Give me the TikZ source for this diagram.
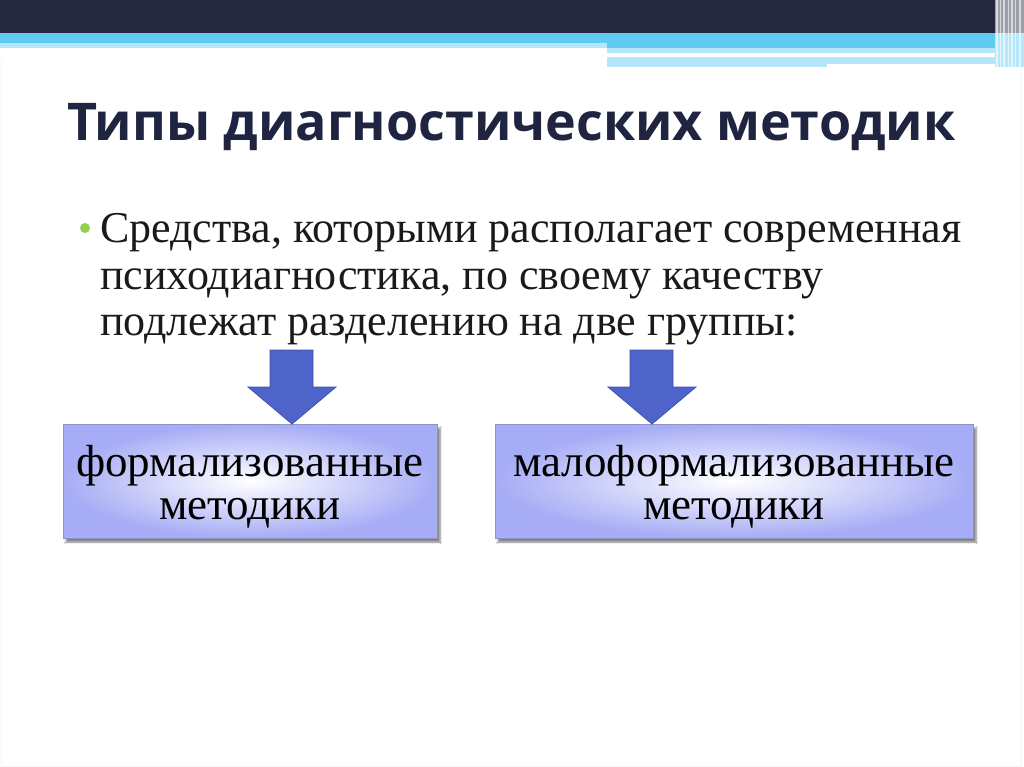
\documentclass[tikz,border=0pt]{standalone}
\usepackage{fontspec}
\setmainfont{Liberation Serif}
\newfontfamily\titlefont{Open Sans}
\usetikzlibrary{shadows.blur}
\definecolor{navy}{HTML}{23283F}
\definecolor{skyb}{HTML}{5FCBF3}
\definecolor{lightb}{HTML}{B5E6F9}
\definecolor{titlecol}{HTML}{1F2541}
\definecolor{bodycol}{HTML}{1A1A1A}
\definecolor{bulletgreen}{HTML}{92D050}
\definecolor{arrowfill}{HTML}{4F64C8}
\definecolor{arrowdraw}{HTML}{3F51A8}
\definecolor{boxedge}{HTML}{A6ACF5}
\definecolor{boxline}{HTML}{8E95C6}
\tikzset{
  titletext/.style={anchor=base west, inner sep=0, text=titlecol, font=\titlefont\bfseries\fontsize{52}{56}\selectfont},
  bodytext/.style={anchor=base west, inner sep=0, text=bodycol, font=\fontsize{44}{46}\selectfont},
  methodbox/.style={draw=boxline, line width=1pt, inner color=white, outer color=boxedge,
    minimum height=114, inner sep=0,
    blur shadow={shadow xshift=3pt, shadow yshift=-4pt, shadow blur steps=6, shadow opacity=50}},
  boxtext/.style={anchor=base, inner sep=0, text=black, font=\fontsize{45}{44}\selectfont},
  blockarrow/.style={fill=arrowfill, draw=arrowdraw, line width=0.8pt, line join=miter},
}
\begin{document}
\begin{tikzpicture}[x=1pt,y=-1pt]
\useasboundingbox (0,0) rectangle (1024,767);
\fill[white] (0,0) rectangle (1024,767);
\draw[gray!8, line width=1pt] (1,60) -- (1,766) -- (1021,766) -- (1021,60);
% top bands
\fill[navy] (0,0) rectangle (1024,33);
\fill[skyb] (0,33) rectangle (1024,43);
\fill[lightb] (0,43) rectangle (607,48);
\fill[skyb] (607,43) rectangle (1000,48);
\fill[lightb] (607,48) rectangle (1006,53);
\fill[lightb] (607,57) rectangle (827,67);
\fill[lightb] (827,57) rectangle (1006,64);
% right vertical stripes
\fill[white!55!navy] (995,0) rectangle (1024,33);
\fill[white!55!skyb] (995,33) rectangle (1024,67);
\foreach \xx/\ww in {996/1.5,1000/1,1003/2,1008/1,1011/1.5,1015/1,1019/2} {
  \fill[white, opacity=0.6] (\xx,0) rectangle ++(\ww,67);
}
% title
\node[titletext] (title) at (67,141) {Типы диагностических методик};
% bullet and body
\fill[bulletgreen] (85,228) circle (5);
\node[bodytext] (line1) at (100,243) {Средства, которыми располагает современная};
\node[bodytext] (line2) at (100,289) {психодиагностика, по своему качеству};
\node[bodytext] (line3) at (100,335) {подлежат разделению на две группы:};
% boxes
\node[methodbox, minimum width=374] (formal) at (250,481) {};
\node[methodbox, minimum width=478] (informal) at (734,481) {};
\node[boxtext] (formal1) at (250,476) {формализованные};
\node[boxtext] (formal2) at (250,519) {методики};
\node[boxtext] (informal1) at (734,476) {малоформализованные};
\node[boxtext] (informal2) at (734,519) {методики};
% block arrows
\coordinate (tipA) at (292,424);
\coordinate (tipB) at (652,424);
\foreach \t in {tipA,tipB} {
  \draw[blockarrow] (\t) ++(-22,-74) -- ++(43,0) -- ++(0,37) -- ++(23,0) -- (\t) -- ++(-44,-37) -- ++(22,0) -- cycle;
}
\end{tikzpicture}
\end{document}
